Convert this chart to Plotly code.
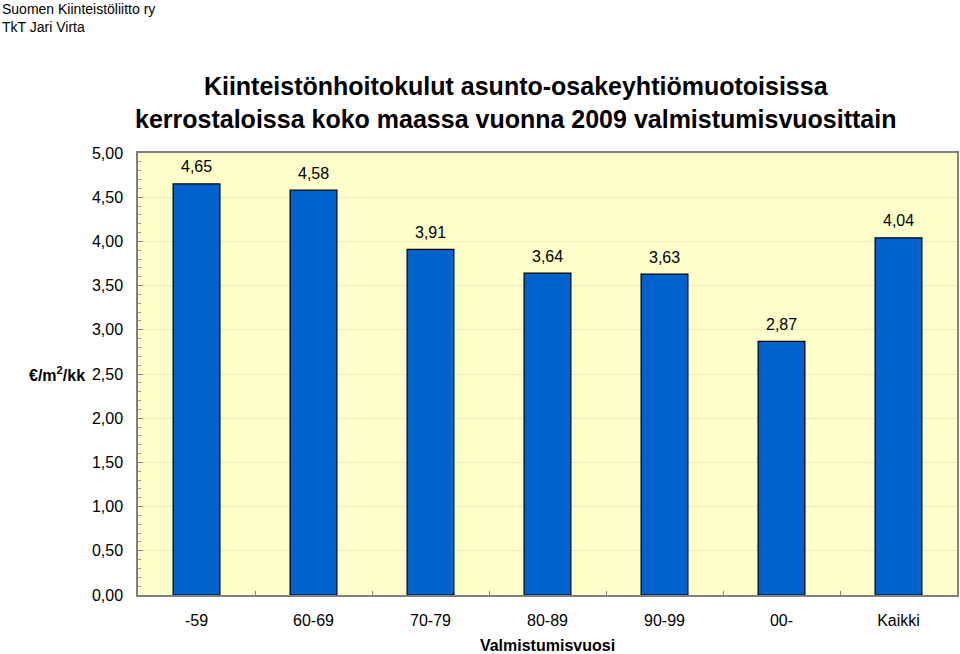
import plotly.graph_objects as go

categories = ["-59", "60-69", "70-79", "80-89", "90-99", "00-", "Kaikki"]
values = [4.65, 4.58, 3.91, 3.64, 3.63, 2.87, 4.04]
labels = ["4,65", "4,58", "3,91", "3,64", "3,63", "2,87", "4,04"]

FONT = "Liberation Sans, Arial, sans-serif"

fig = go.Figure()
fig.add_trace(go.Bar(
    x=categories, y=values, width=0.4,
    marker=dict(color="#0062CC", line=dict(color="#000000", width=1.2)),
    hoverinfo="skip",
))

for i, (v, t) in enumerate(zip(values, labels)):
    fig.add_annotation(x=i, y=v, text=t, showarrow=False, yanchor="middle",
                       yshift=17, font=dict(family=FONT, size=16, color="#000000"))

fig.update_layout(
    width=960, height=654,
    margin=dict(l=138, r=3, t=153, b=59),
    paper_bgcolor="#FFFFFF", plot_bgcolor="#FFFFCC",
    separators=", ",
    showlegend=False,
    font=dict(family=FONT, size=16, color="#000000"),
    bargap=0.6,
)
fig.update_yaxes(
    range=[0, 5], dtick=0.5, tickformat=".2f", automargin=False,
    showgrid=True, gridcolor="#EFEBB8", gridwidth=1,
    showline=True, linecolor="#808080", linewidth=1.5, mirror=True,
    ticks="inside", ticklen=5, tickcolor="#808080",
    minor=dict(dtick=0.1, ticks="inside", ticklen=3, tickcolor="#999999", showgrid=False),
    tickfont=dict(family=FONT, size=16),
    ticklabelstandoff=10,
    zeroline=False,
)
fig.update_xaxes(
    type="category", range=[-0.5, 6.5], tickangle=0, automargin=False,
    showline=True, linecolor="#808080", linewidth=1.5, mirror=True,
    tickson="boundaries", ticks="inside", ticklen=4, tickcolor="#808080",
    tickfont=dict(family=FONT, size=16),
    ticklabelstandoff=10,
    title=dict(text="<b>Valmistumisvuosi</b>", font=dict(family=FONT, size=16), standoff=15),
)

fig.add_annotation(
    text="<b>Kiinteistönhoitokulut asunto-osakeyhtiömuotoisissa<br>kerrostaloissa koko maassa vuonna 2009 valmistumisvuosittain</b>",
    xref="paper", yref="paper", x=(515 - 138) / 819, y=1.0, yshift=18, xanchor="center", yanchor="bottom",
    showarrow=False, font=dict(family=FONT, size=25, color="#000000"),
)
fig.add_annotation(
    text="Suomen Kiinteistöliitto ry<br>TkT Jari Virta",
    xref="paper", yref="paper", x=-138/819, y=1.0, yshift=116,
    xanchor="left", yanchor="bottom", align="left",
    showarrow=False, font=dict(family=FONT, size=14, color="#000000"),
)
fig.add_annotation(
    text="<b>€/m<sup>2</sup>/kk</b>",
    xref="paper", yref="y", x=-51/819, y=2.5, xanchor="right", yanchor="middle",
    showarrow=False, font=dict(family=FONT, size=16, color="#000000"),
)

fig.write_html("out.html")
